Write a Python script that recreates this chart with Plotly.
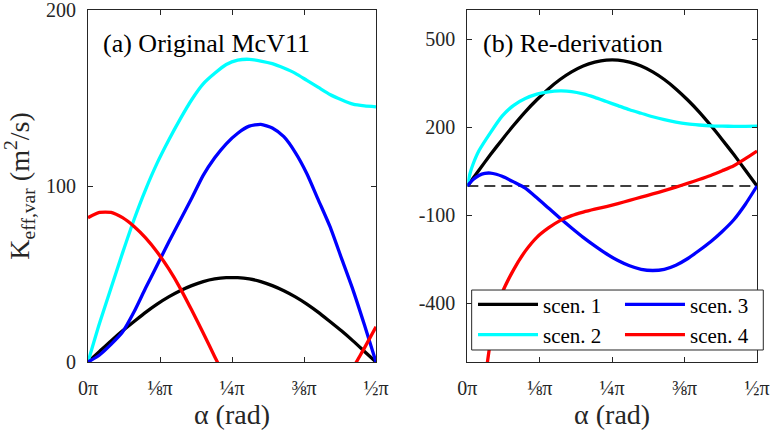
import plotly.graph_objects as go

# alpha in units of pi
ALPHA = [0, 0.02, 0.04, 0.06, 0.08, 0.10, 0.12, 0.14, 0.16, 0.18, 0.20, 0.22, 0.24,
         0.26, 0.28, 0.30, 0.32, 0.34, 0.36, 0.38, 0.40, 0.42, 0.44, 0.46, 0.48, 0.50]

# (a) Original McV11
a_scen1 = [0, 6, 12, 17.7, 23, 28.2, 32.9, 37, 40.5, 43.4, 45.7, 47.2, 47.9,
           47.9, 47.2, 45.7, 43.4, 40.5, 37, 32.9, 28.2, 23, 17.7, 12, 6, 0]
a_scen2 = [0, 22, 42, 62, 81, 98, 113, 126, 138, 149, 158, 164, 169,
           171.5, 172, 171, 169.5, 167, 164, 160, 156, 152, 149, 146.5, 145.5, 145]
a_scen3 = [0, 4, 10, 17, 28.5, 42, 55, 68, 80.5, 93, 106, 116, 124,
           130, 134, 135, 133, 128, 119, 107, 92, 77, 59, 41, 21, 0]
a_scen4 = [82, 85, 85, 82, 77, 70.5, 62.5, 53, 42, 29.5, 16.5, 3, -10,
           -23, -35, -45, -52, -56, -56, -52, -44, -32, -17, -3.5, 8, 20]

# (b) Re-derivation
b_scen1 = [0, 54, 107, 158, 207, 253, 294, 331, 363, 389, 409, 422, 429,
           429, 422, 409, 389, 363, 331, 294, 253, 207, 158, 107, 54, 0]
B2_ALPHA = [0, 0.005, 0.01, 0.02, 0.04, 0.06, 0.08, 0.10, 0.12, 0.14, 0.16, 0.18, 0.20,
            0.22, 0.24, 0.26, 0.28, 0.30, 0.32, 0.34, 0.36, 0.38, 0.40, 0.42, 0.44,
            0.46, 0.48, 0.50]
b_scen2 = [0, 45, 75, 120, 182, 238, 275, 298, 313, 321, 324, 322, 314,
           302, 288, 274, 260, 248, 236, 226, 218, 212, 208, 205, 204,
           203.5, 203.5, 204]
B3_ALPHA = [0, 0.01, 0.02, 0.03, 0.04, 0.05, 0.06, 0.08, 0.10, 0.12, 0.14, 0.16, 0.18,
            0.20, 0.22, 0.24, 0.26, 0.28, 0.30, 0.32, 0.34, 0.36, 0.38, 0.40, 0.42,
            0.44, 0.46, 0.48, 0.50]
b_scen3 = [0, 22, 36, 43, 44, 40, 33, 14, -7, -40, -75, -110, -143,
           -175, -204, -231, -254, -272, -284, -288, -284, -270, -248, -220, -190,
           -155, -115, -62, 0]
B4_ALPHA = [0.02, 0.03, 0.04, 0.05, 0.06, 0.08, 0.10, 0.12, 0.14, 0.16, 0.18, 0.20,
            0.22, 0.24, 0.26, 0.28, 0.30, 0.32, 0.34, 0.36, 0.38, 0.40, 0.42, 0.44,
            0.46, 0.48, 0.50]
b_scen4 = [-950, -680, -530, -430, -365, -285, -222, -175, -143, -118, -101, -89,
           -79, -70, -60, -49, -38, -27, -16, -4, 9, 22, 36, 52,
           69, 93, 119]

NAMES = ["scen. 1", "scen. 2", "scen. 3", "scen. 4"]
COLORS = ["#000000", "#00FFFF", "#0000FF", "#FF0000"]
LEGENDS = ["legend", "legend", "legend2", "legend2"]

X_TICKS = [0, 0.125, 0.25, 0.375, 0.5]
X_TICKTEXT = ["0π", "⅛π", "¼π", "⅜π", "½π"]
YA_TICKS = [0, 100, 200]
YB_TICKS = [-400, -100, 200, 500]
YB_TICKTEXT = ["-400", "-100", "200", "500"]

FONT = "Liberation Serif"
AXC = "#262626"
LW = 3.3

fig = go.Figure()

# zero reference line (panel b)
fig.add_trace(go.Scatter(x=[0, 0.5], y=[0, 0], mode="lines", xaxis="x2", yaxis="y2",
                         line=dict(color="#000000", width=1.4, dash="11px,6px"),
                         showlegend=False, hoverinfo="skip"))

left = [a_scen1, a_scen2, a_scen3, a_scen4]
for i in range(4):
    fig.add_trace(go.Scatter(x=ALPHA, y=left[i], mode="lines", name=NAMES[i],
                             line=dict(color=COLORS[i], width=LW, shape="spline", smoothing=0.6),
                             xaxis="x", yaxis="y", showlegend=False))

right_x = [ALPHA, B2_ALPHA, B3_ALPHA, B4_ALPHA]
right_y = [b_scen1, b_scen2, b_scen3, b_scen4]
for i in range(4):
    fig.add_trace(go.Scatter(x=right_x[i], y=right_y[i], mode="lines", name=NAMES[i],
                             line=dict(color=COLORS[i], width=LW, shape="spline", smoothing=0.6),
                             xaxis="x2", yaxis="y2", legend=LEGENDS[i]))

axis_common = dict(showline=True, linecolor=AXC, linewidth=1, mirror="ticks",
                   ticks="inside", ticklen=5, tickcolor=AXC, tickwidth=1,
                   showgrid=False, zeroline=False, ticklabeloverflow="allow",
                   automargin=False,
                   tickfont=dict(family=FONT, size=20, color=AXC))

TITLE_FONT = dict(family=FONT, size=28, color=AXC)
LEG_FONT = dict(family=FONT, size=21, color="#000000")

fig.update_layout(
    width=771, height=433,
    margin=dict(l=88, r=14, t=10, b=71, autoexpand=False),
    paper_bgcolor="white", plot_bgcolor="white",
    font=dict(family=FONT, color=AXC),
    xaxis=dict(domain=[0, 0.4305], range=[0, 0.5], tickvals=X_TICKS, ticktext=X_TICKTEXT,
               ticklabelstandoff=8,
               title=dict(text="α (rad)", font=TITLE_FONT, standoff=2),
               **axis_common),
    yaxis=dict(domain=[0, 1], range=[0, 200], tickvals=YA_TICKS, ticklabelstandoff=7,
               title=dict(text="K<sub>eff,var</sub> (m<sup>2</sup>/s)",
                          font=TITLE_FONT, standoff=15),
               anchor="x", **axis_common),
    xaxis2=dict(domain=[0.567, 1.0], range=[0, 0.5], tickvals=X_TICKS, ticktext=X_TICKTEXT,
                ticklabelstandoff=8, anchor="y2",
                title=dict(text="α (rad)", font=TITLE_FONT, standoff=2),
                **axis_common),
    yaxis2=dict(domain=[0, 1], range=[-600, 600], tickvals=YB_TICKS, ticktext=YB_TICKTEXT,
                ticklabelstandoff=7, anchor="x2", **axis_common),
    legend=dict(orientation="v", x=0.5755, y=0.221, xanchor="left", yanchor="top",
                bgcolor="rgba(0,0,0,0)", borderwidth=0, font=LEG_FONT,
                itemwidth=60, traceorder="normal", tracegroupgap=0),
    legend2=dict(orientation="v", x=0.7952, y=0.221, xanchor="left", yanchor="top",
                 bgcolor="rgba(0,0,0,0)", borderwidth=0, font=LEG_FONT,
                 itemwidth=60, traceorder="normal", tracegroupgap=0),
    shapes=[
        dict(type="rect", xref="paper", yref="paper", x0=0.5735, x1=1.0094, y0=0.0341, y1=0.2045,
             line=dict(color=AXC, width=1), fillcolor="white", layer="above"),
    ],
    annotations=[
        dict(text="(a) Original McV11", xref="x domain", yref="y domain", x=0.045, y=0.906,
             xanchor="left", yanchor="middle", showarrow=False,
             font=dict(family=FONT, size=26, color="#000000")),
        dict(text="(b) Re-derivation", xref="x2 domain", yref="y2 domain", x=0.047, y=0.906,
             xanchor="left", yanchor="middle", showarrow=False,
             font=dict(family=FONT, size=26, color="#000000")),
    ],
)

fig.write_html("out.html")
